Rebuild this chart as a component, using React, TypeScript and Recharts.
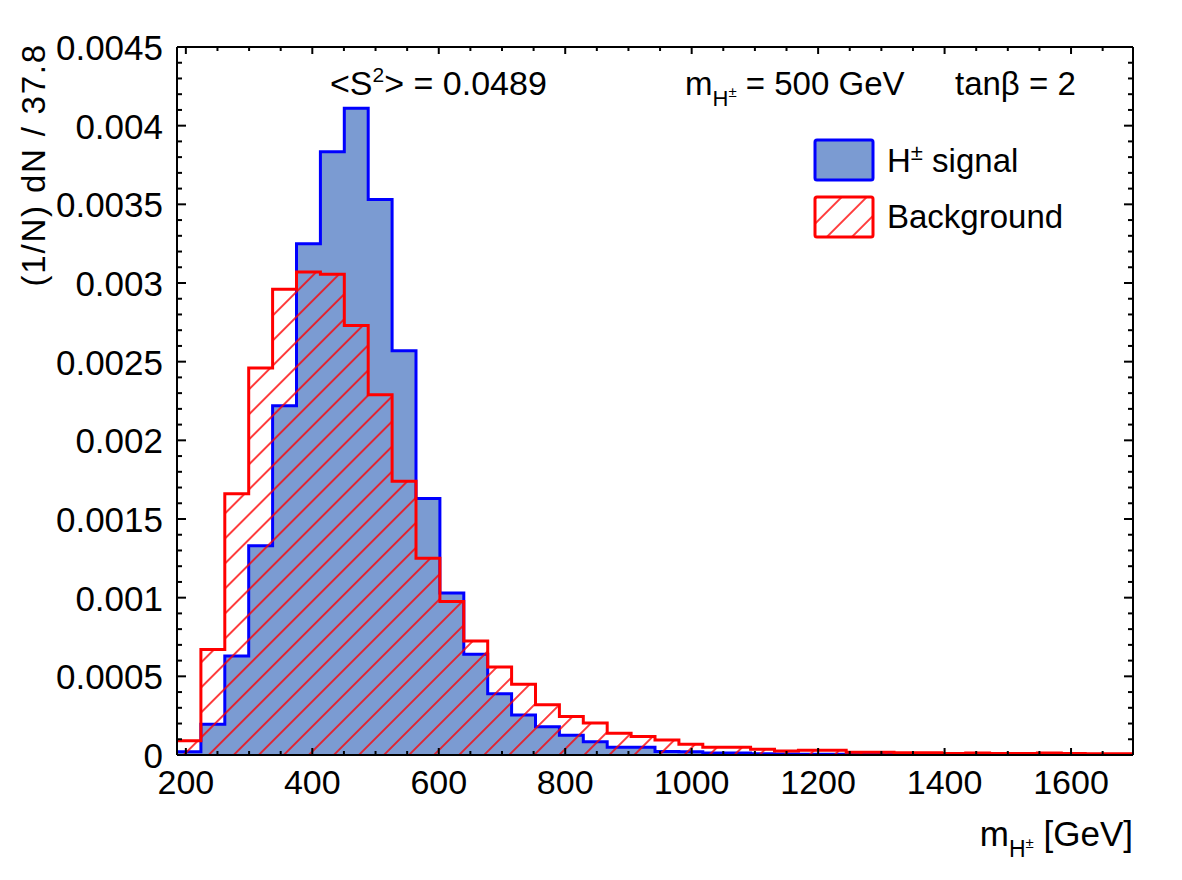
import React from 'react';
import { ComposedChart, Area, XAxis, YAxis } from 'recharts';

// binning of the histograms (GeV)
const X_MIN = 186;
const X_MAX = 1698;
const BIN_WIDTH = 37.8;

// (1/N) dN per bin
const signal = [
  0.00002, 0.000195, 0.00063, 0.00133, 0.00222, 0.00325, 0.003835, 0.00411, 0.00353, 0.00257,
  0.00163, 0.00103, 0.00064, 0.00039, 0.000254, 0.00018, 0.000125, 0.000085, 0.00005, 0.00005,
  0.000022, 0.00002, 0.000012, 0.000012, 0.000008, 0.000006, 0.000005, 0.000004, 0.000003, 0.000003,
  0.000002, 0.000002, 0.000002, 0.000001, 0.000001, 0.000001, 0.000001, 0.000001, 0.000001, 0.000001,
];
const background = [
  0.00009, 0.00067, 0.00166, 0.00246, 0.00296, 0.00307, 0.003055, 0.00273, 0.00229, 0.00174,
  0.00125, 0.000975, 0.000725, 0.00056, 0.00045, 0.00032, 0.000245, 0.000203, 0.000138, 0.000117,
  0.000095, 0.000068, 0.00005, 0.00005, 0.000036, 0.000025, 0.00003, 0.00003, 0.000017, 0.000017,
  0.000015, 0.000015, 0.00001, 0.000012, 0.00001, 0.00001, 0.000012, 0.00001, 0.000008, 0.000008,
];

const xMajorTicks = [200, 400, 600, 800, 1000, 1200, 1400, 1600];
const xTicks = Array.from({ length: 30 }, (_, i) => 200 + i * 50);
const yMajorTicks = [0, 0.0005, 0.001, 0.0015, 0.002, 0.0025, 0.003, 0.0035, 0.004, 0.0045];
const yTicks = Array.from({ length: 46 }, (_, i) => Number((i * 0.0001).toFixed(4)));

// step data: one point per bin low edge, plus the closing edge
const data = signal.map((s, i) => ({
  x: X_MIN + i * BIN_WIDTH,
  signal: s,
  background: background[i],
}));
data.push({ x: X_MAX, signal: signal[signal.length - 1], background: background[background.length - 1] });

const FONT = "'Liberation Sans', Arial, Helvetica, sans-serif";
const BLUE_FILL = '#7b9bd2';

const isXMajor = (v: number) => xMajorTicks.includes(v);
const isYMajor = (v: number) => yMajorTicks.some((t) => Math.abs(t - v) < 1e-9);

const BottomTick = ({ x, y, payload }: any) => {
  const major = isXMajor(payload.value);
  return (
    <g>
      <line x1={x} x2={x} y1={y} y2={y - (major ? 7 : 4)} stroke="#000" strokeWidth={2} />
      {major && (
        <text x={x} y={y + 39} textAnchor="middle" fontSize={34} fontFamily={FONT} fill="#000">
          {payload.value}
        </text>
      )}
    </g>
  );
};

const TopTick = ({ x, y, payload }: any) => {
  const major = isXMajor(payload.value);
  return <line x1={x} x2={x} y1={y} y2={y + (major ? 7 : 4)} stroke="#000" strokeWidth={2} />;
};

const LeftTick = ({ x, y, payload }: any) => {
  const major = isYMajor(payload.value);
  return (
    <g>
      <line x1={x} x2={x + (major ? 9 : 5)} y1={y} y2={y} stroke="#000" strokeWidth={2} />
      {major && (
        <text x={x - 14} y={y + 13} textAnchor="end" fontSize={35} fontFamily={FONT} fill="#000">
          {payload.value === 0 ? '0' : String(payload.value)}
        </text>
      )}
    </g>
  );
};

const RightTick = ({ x, y, payload }: any) => {
  const major = isYMajor(payload.value);
  return <line x1={x} x2={x - (major ? 9 : 5)} y1={y} y2={y} stroke="#000" strokeWidth={2} />;
};

const HatchPattern = ({ id }: { id: string }) => (
  <pattern id={id} patternUnits="userSpaceOnUse" width={17.7} height={17.7} patternTransform="rotate(45)">
    <line x1={8.85} y1={0} x2={8.85} y2={17.7} stroke="#ff0000" strokeWidth={1.5} />
  </pattern>
);

export default function App() {
  return (
    <div style={{ position: 'absolute', left: 0, top: 0, width: 1182, height: 880, background: '#fff', fontFamily: FONT }}>
      <ComposedChart width={1182} height={880} data={data} margin={{ top: 0, right: 0, bottom: 0, left: 0 }}>
        <defs>
          <HatchPattern id="bkgHatch" />
        </defs>
        <Area
          type="stepAfter"
          dataKey="signal"
          stroke="#0000ff"
          strokeWidth={3}
          fill={BLUE_FILL}
          fillOpacity={1}
          dot={false}
          activeDot={false}
          isAnimationActive={false}
        />
        <Area
          type="stepAfter"
          dataKey="background"
          stroke="#ff0000"
          strokeWidth={3}
          fill="url(#bkgHatch)"
          fillOpacity={1}
          dot={false}
          activeDot={false}
          isAnimationActive={false}
        />
        <XAxis
          dataKey="x"
          type="number"
          domain={[X_MIN, X_MAX]}
          allowDataOverflow
          ticks={xTicks}
          interval={0}
          height={125}
          tickSize={0}
          tickMargin={0}
          tick={<BottomTick />}
          axisLine={{ stroke: '#000', strokeWidth: 2 }}
        />
        <XAxis
          xAxisId="top"
          orientation="top"
          dataKey="x"
          type="number"
          domain={[X_MIN, X_MAX]}
          allowDataOverflow
          ticks={xTicks}
          interval={0}
          height={47}
          tickSize={0}
          tickMargin={0}
          tick={<TopTick />}
          axisLine={{ stroke: '#000', strokeWidth: 2 }}
        />
        <YAxis
          type="number"
          domain={[0, 0.0045]}
          allowDataOverflow
          ticks={yTicks}
          interval={0}
          width={177}
          tickSize={0}
          tickMargin={0}
          tick={<LeftTick />}
          axisLine={{ stroke: '#000', strokeWidth: 2 }}
        />
        <YAxis
          yAxisId="right"
          orientation="right"
          type="number"
          domain={[0, 0.0045]}
          allowDataOverflow
          ticks={yTicks}
          interval={0}
          width={49}
          tickSize={0}
          tickMargin={0}
          tick={<RightTick />}
          axisLine={{ stroke: '#000', strokeWidth: 2 }}
        />
      </ComposedChart>

      <svg
        width={1182}
        height={880}
        style={{ position: 'absolute', left: 0, top: 0, pointerEvents: 'none' }}
        fontFamily={FONT}
      >
        <defs>
          <HatchPattern id="legendHatch" />
        </defs>

        <text x={330} y={95} fontSize={34} fill="#000">
          &lt;S<tspan dy={-13} fontSize={21}>2</tspan>
          <tspan dy={13}>&gt; = 0.0489</tspan>
        </text>

        <text x={685} y={95} fontSize={33} fill="#000">
          m<tspan dy={11} fontSize={22}>H</tspan>
          <tspan dy={-9} fontSize={15}>±</tspan>
          <tspan dy={-2}> = 500 GeV</tspan>
        </text>
        <text x={955} y={95} fontSize={33} fill="#000">
          tanβ = 2
        </text>

        <rect x={815} y={140} width={58} height={40} rx={2} fill={BLUE_FILL} stroke="#0000ff" strokeWidth={3} />
        <text x={887} y={172} fontSize={33} fill="#000">
          H<tspan dy={-12} fontSize={22}>±</tspan>
          <tspan dy={12}> signal</tspan>
        </text>
        <rect x={815} y={197} width={58} height={40} rx={2} fill="#fff" stroke="none" />
        <rect x={815} y={197} width={58} height={40} rx={2} fill="url(#legendHatch)" stroke="#ff0000" strokeWidth={3} />
        <text x={887} y={228} fontSize={33} fill="#000">
          Background
        </text>

        <text x={1133} y={846} fontSize={35} textAnchor="end" fill="#000">
          m<tspan dy={11} fontSize={23}>H</tspan>
          <tspan dy={-9} fontSize={15}>±</tspan>
          <tspan dy={-2}> [GeV]</tspan>
        </text>

        <text
          x={45}
          y={43}
          fontSize={33}
          letterSpacing={1.8}
          textAnchor="end"
          transform="rotate(-90 45 43)"
          fill="#000"
        >
          (1/N) dN / 37.8
        </text>
      </svg>
    </div>
  );
}
